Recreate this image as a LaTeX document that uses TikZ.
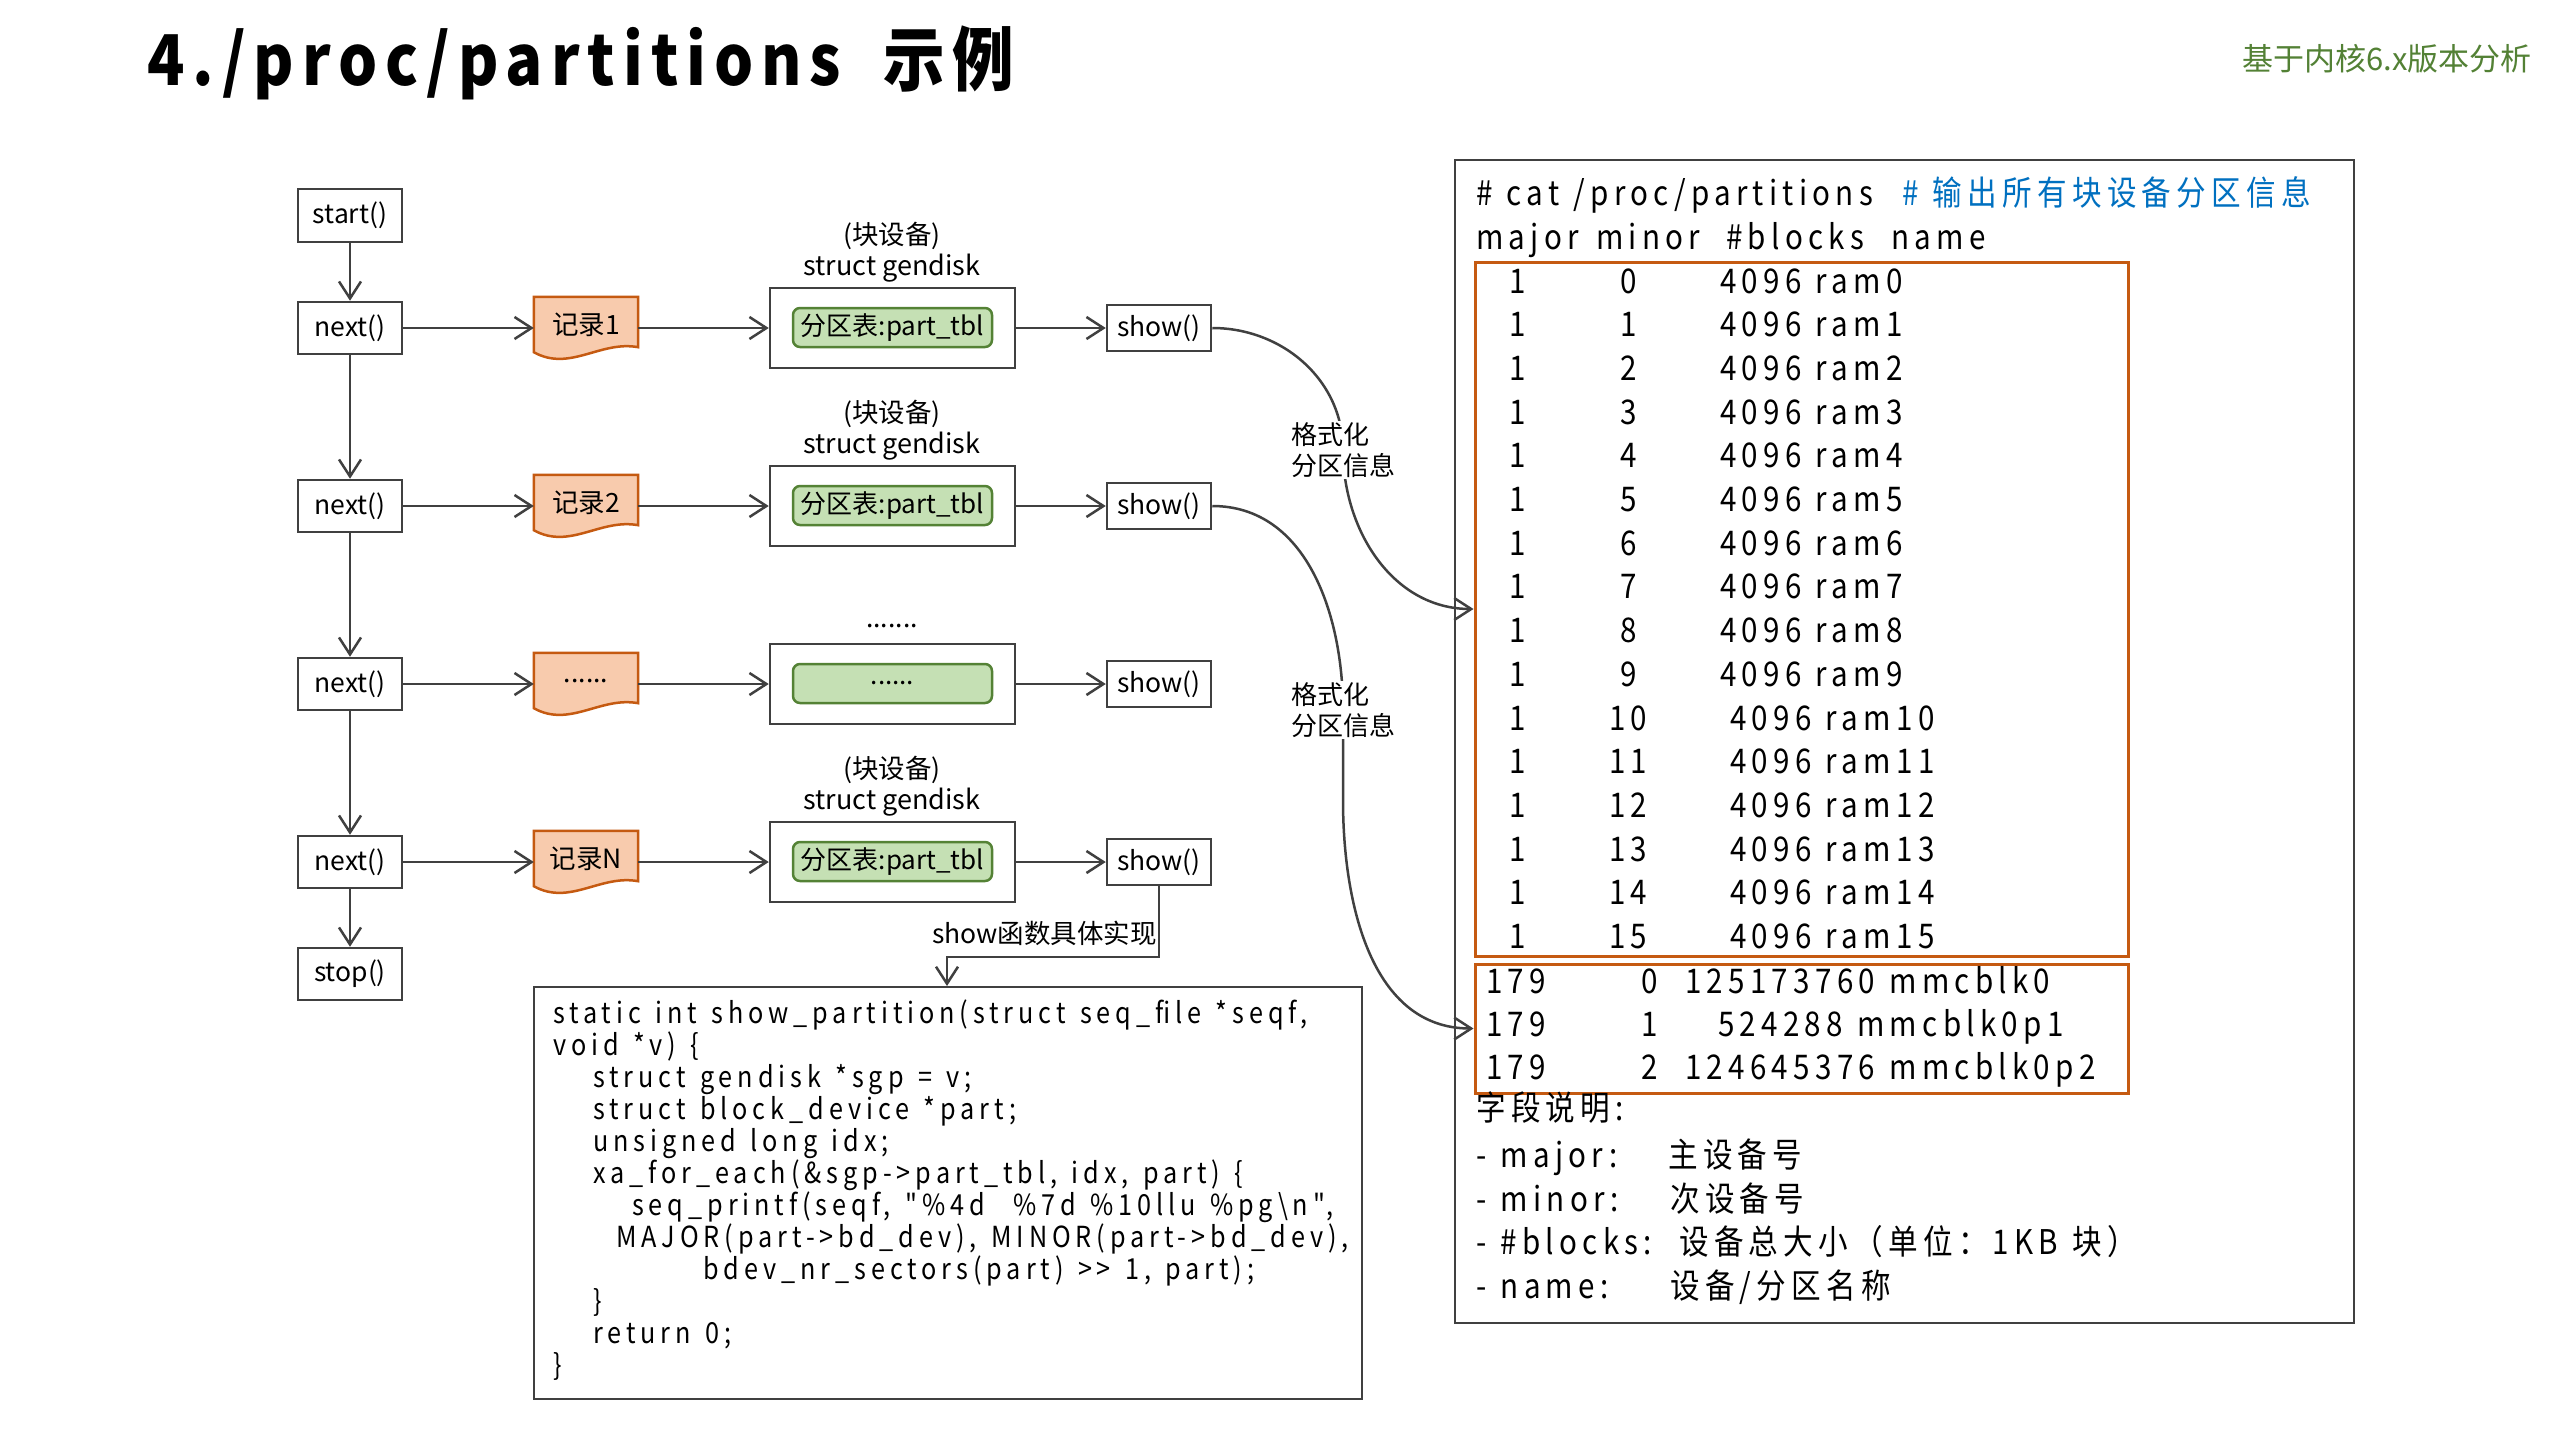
\documentclass[tikz,border=0pt]{standalone}
\usepackage{fontspec}
\setmainfont{Noto Sans CJK SC}
\newfontfamily\titlefont[LetterSpace=11.4,WordSpace=1.9,FakeStretch=0.88]{Noto Sans CJK SC}
\newfontfamily\panelfont[LetterSpace=15.5,WordSpace=1.2,FakeStretch=0.87]{Noto Sans CJK SC}
\newfontfamily\codefont[LetterSpace=17,WordSpace=1.35,FakeStretch=0.87]{Noto Sans CJK SC}
\usetikzlibrary{arrows.meta,backgrounds}
\definecolor{lc}{HTML}{404040}
\definecolor{orng}{HTML}{C55A11}
\definecolor{docfill}{HTML}{F8CBAD}
\definecolor{grfill}{HTML}{C5E0B4}
\definecolor{grline}{HTML}{548235}
\definecolor{blu}{HTML}{0070C0}
\definecolor{subgr}{HTML}{538135}
\begin{document}
\begin{tikzpicture}[x=1pt,y=-1pt,
  lbl/.style={inner sep=0pt, font=\fontsize{26.5}{30}\selectfont},
  fbox/.style={draw=lc, line width=2.5pt, fill=white, inner sep=0pt, minimum width=104pt, minimum height=52pt, font=\fontsize{26.5}{30}\selectfont},
  showbox/.style={fbox, minimum height=46pt},
  gbox/.style={draw=lc, line width=2.5pt, minimum width=245pt, minimum height=80pt, inner sep=0pt},
  grn/.style={draw=grline, fill=grfill, line width=2.5pt, rounded corners=7pt, minimum width=199pt, minimum height=39pt, inner sep=0pt, font=\fontsize{26}{30}\selectfont},
  docnode/.style={inner sep=0pt, minimum width=104pt, minimum height=55pt, font=\fontsize{26.5}{30}\selectfont},
  docshape/.style={draw=orng, fill=docfill, line width=2.5pt},
  conn/.style={draw=lc, line width=2.5pt, -{Straight Barb[length=17pt,width=22pt]}},
  ptxt/.style={inner sep=0pt, anchor=base west, font=\panelfont\fontsize{34}{40}\selectfont},
  ctxt/.style={inner sep=0pt, anchor=base west, font=\codefont\fontsize{29}{32}\selectfont},
  obox/.style={draw=orng, line width=3pt, inner sep=0pt},
  curvelbl/.style={fill=white, inner sep=1pt, align=left, font=\fontsize{26}{31}\selectfont},
]
\useasboundingbox (0,0) rectangle (2560,1440);
\begin{scope}[on background layer]
\fill[white] (0,0) rectangle (2560,1440);
\end{scope}

% title
\node[inner sep=0pt, anchor=base west, font=\titlefont\bfseries\fontsize{70}{76}\selectfont] (title) at (147,85) {4./proc/partitions 示例};
\node[inner sep=0pt, anchor=base east, text=subgr, font=\fontsize{31}{36}\selectfont] (sub) at (2532,70) {基于内核6.x版本分析};

% left column
\node[fbox, minimum height=53pt] (st) at (350,215.5) {start()};
\node[fbox] (n1) at (350,328) {next()};
\node[fbox] (n2) at (350,506) {next()};
\node[fbox] (n3) at (350,684) {next()};
\node[fbox] (n4) at (350,862) {next()};
\node[fbox] (sp) at (350,974) {stop()};
\draw[conn] (st) -- (n1);
\draw[conn] (n1) -- (n2);
\draw[conn] (n2) -- (n3);
\draw[conn] (n3) -- (n4);
\draw[conn] (n4) -- (sp);

% records
\node[docnode] (d1) at (586,324.5) {记录1};
\node[docnode] (d2) at (586,502.5) {记录2};
\node[docnode] (d3) at (586,680.5) {......};
\node[docnode] (d4) at (586,858.5) {记录N};
\begin{scope}[on background layer]
\foreach \d in {d1,d2,d3,d4}{
  \draw[docshape] (\d.north west) -- (\d.north east) -- ([yshift=5pt]\d.south east) .. controls +(-38,-7) and +(36,20) .. (\d.south west) -- cycle;
}
\end{scope}

% gendisk boxes
\node[gbox] (g1) at (892.5,328) {};
\node[gbox] (g2) at (892.5,506) {};
\node[gbox] (g3) at (892.5,684) {};
\node[gbox] (g4) at (892.5,862) {};
\node[grn] (p1) at (892.5,327.5) {分区表:part\_tbl};
\node[grn] (p2) at (892.5,505.5) {分区表:part\_tbl};
\node[grn] (p3) at (892.5,683.5) {......};
\node[grn] (p4) at (892.5,861.5) {分区表:part\_tbl};
\node[lbl] (bk1) at (892,236) {(块设备)};
\node[lbl, font=\fontsize{27}{30}\selectfont] (sg1) at (892,268) {struct gendisk};
\node[lbl] (bk2) at (892,414) {(块设备)};
\node[lbl, font=\fontsize{27}{30}\selectfont] (sg2) at (892,446) {struct gendisk};
\node[lbl] (dots3) at (892,626) {.......};
\node[lbl] (bk4) at (892,770) {(块设备)};
\node[lbl, font=\fontsize{27}{30}\selectfont] (sg4) at (892,802) {struct gendisk};

% show boxes
\node[showbox] (s1) at (1159,328) {show()};
\node[showbox] (s2) at (1159,506) {show()};
\node[showbox] (s3) at (1159,684) {show()};
\node[showbox] (s4) at (1159,862) {show()};

\foreach \k in {1,2,3,4}{
  \draw[conn] (n\k.east) -- (n\k.east -| d\k.west);
  \draw[conn] (d\k.east |- g\k.west) -- (g\k.west);
  \draw[conn] (g\k.east) -- (s\k.west);
}

% code box
\node[draw=lc, line width=2pt, minimum width=828pt, minimum height=412pt, inner sep=0pt] (code) at (948,1193) {};
\coordinate (bend) at (947,957);
\draw[conn] (s4.south) |- (bend) -- (bend |- code.north);
\node[lbl, anchor=east, font=\fontsize{26.5}{30}\selectfont] (impl) at (1157,933) {show函数具体实现};

\node[ctxt] (c1) at (553,1023) {static int show\_partition(struct seq\_file *seqf,};
\node[ctxt] (c2) at (553,1055) {void *v) \{};
\node[ctxt] (c3) at (593,1087) {struct gendisk *sgp = v;};
\node[ctxt] (c4) at (593,1119) {struct block\_device *part;};
\node[ctxt] (c5) at (593,1151) {unsigned long idx;};
\node[ctxt] (c6) at (593,1183) {xa\_for\_each(\&sgp->part\_tbl, idx, part) \{};
\node[ctxt] (c7) at (632,1215) {seq\_printf(seqf, "\%4d\ \ \%7d \%10llu \%pg\textbackslash n",};
\node[ctxt] (c8) at (616,1247) {MAJOR(part->bd\_dev), MINOR(part->bd\_dev),};
\node[ctxt] (c9) at (703,1279) {bdev\_nr\_sectors(part) >> 1, part);};
\node[ctxt] (c10) at (593,1311) {\}};
\node[ctxt] (c11) at (593,1343) {return 0;};
\node[ctxt] (c12) at (553,1375) {\}};

% right panel
\node[draw=lc, line width=2.5pt, minimum width=899pt, minimum height=1163pt, inner sep=0pt] (panel) at (1904.5,741.5) {};
\node[obox, minimum width=653pt, minimum height=694pt] (ob1) at (1801.5,609) {};
\node[obox, minimum width=653pt, minimum height=129pt] (ob2) at (1801.5,1028.5) {};

\node[ptxt] (h1) at (1476,205) {\# cat /proc/partitions};
\node[ptxt, text=blu] (h1b) at (1902,205) {\# 输出所有块设备分区信息};
\node[ptxt] (h2) at (1476,249) {\makebox[120pt][l]{major}\makebox[130pt][l]{minor}\makebox[165pt][l]{\#blocks}name};

\foreach \i in {0,...,9}{
  \node[ptxt] (r\i) at (1476,{293+43.7*\i}) {\makebox[82pt][c]{1}\makebox[140pt][c]{\i}\hspace{22pt}4096 ram\i};
}
\foreach \i in {10,...,15}{
  \node[ptxt] (r\i) at (1476,{293+43.7*\i}) {\makebox[82pt][c]{1}\makebox[140pt][c]{\i}\hspace{32pt}4096 ram\i};
}
\node[ptxt] (m0) at (1486,993) {\makebox[143pt][l]{179}\makebox[40pt][c]{0}\hspace{16pt}125173760 mmcblk0};
\node[ptxt] (m1) at (1486,1036) {\makebox[143pt][l]{179}\makebox[40pt][c]{1}\hspace{49pt}524288 mmcblk0p1};
\node[ptxt] (m2) at (1486,1079) {\makebox[143pt][l]{179}\makebox[40pt][c]{2}\hspace{16pt}124645376 mmcblk0p2};

\node[ptxt] (f0) at (1476,1120) {字段说明:};
\node[ptxt] (f1) at (1476,1167) {\makebox[192pt][l]{- major:}主设备号};
\node[ptxt] (f2) at (1476,1211) {\makebox[194pt][l]{- minor:}次设备号};
\node[ptxt] (f3) at (1476,1254) {\makebox[203pt][l]{- \#blocks:}设备总大小（单位：1KB 块）};
\node[ptxt] (f4) at (1476,1298) {\makebox[194pt][l]{- name:}设备/分区名称};

% curves
\coordinate (cm1) at (1343,450);
\coordinate (cm2) at (1343,710);
\draw[conn] (s1.east) to[out=0,in=90] (cm1) to[out=-90,in=180] (ob1.west);
\draw[conn] (s2.east) to[out=0,in=90] (cm2) -- ++(0,90) to[out=-90,in=180] (ob2.west);
\node[curvelbl] (lab1) at (cm1) {格式化\\分区信息};
\node[curvelbl] (lab2) at (cm2) {格式化\\分区信息};
\end{tikzpicture}
\end{document}
